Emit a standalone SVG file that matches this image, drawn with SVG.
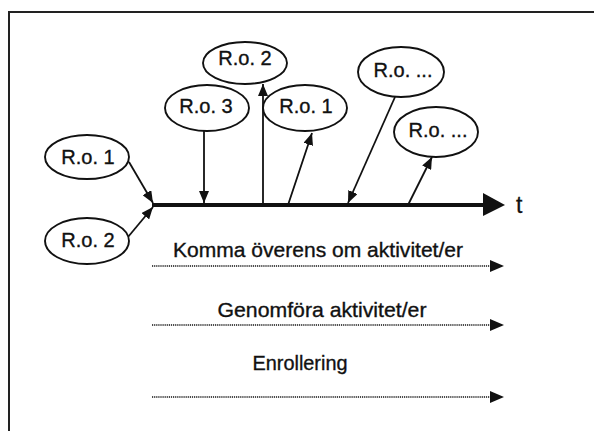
<svg xmlns="http://www.w3.org/2000/svg" width="594" height="431" viewBox="0 0 594 431">
<defs>
<style>
.node ellipse{fill:#fff;stroke:#111;stroke-width:1.9}
.lbl{font-family:"Liberation Sans",Arial,sans-serif;font-size:20px;fill:#111;stroke:#111;stroke-width:0.35;text-anchor:middle}
.ph{font-size:21px}
.con{stroke:#111;stroke-width:1.8;fill:none}
.dot{stroke:#111;stroke-width:1.7;stroke-dasharray:1.2 0.9;fill:none}
.head{fill:#111}
</style>
<marker id="ah" viewBox="0 0 12 10" refX="12" refY="5" markerWidth="12" markerHeight="10" markerUnits="userSpaceOnUse" orient="auto">
<path d="M0,0 L12,5 L0,10 Z" fill="#111"/>
</marker>
</defs>
<rect width="594" height="431" fill="#fff"/>
<g id="frame">
<path d="M9,431 L9,12 L594,12" fill="none" stroke="#222" stroke-width="2"/>
</g>
<g id="connectors">
<line class="con" x1="129" y1="162" x2="153" y2="203" marker-end="url(#ah)"/>
<line class="con" x1="128" y1="237" x2="153" y2="207" marker-end="url(#ah)"/>
<line class="con" x1="204" y1="131" x2="204" y2="203" marker-end="url(#ah)"/>
<line class="con" x1="263" y1="205" x2="263" y2="84" stroke-width="2.6" marker-end="url(#ah)"/>
<line class="con" x1="288" y1="205" x2="312" y2="133" marker-end="url(#ah)"/>
<line class="con" x1="395" y1="97" x2="348" y2="203" marker-end="url(#ah)"/>
<line class="con" x1="408" y1="205" x2="432" y2="157" marker-end="url(#ah)"/>
</g>
<g id="axis">
<line x1="152" y1="205" x2="486" y2="205" stroke="#111" stroke-width="4"/>
<polygon class="head" points="483,193 505,205 483,216"/>
<text x="516" y="213" font-family="Liberation Sans, Arial, sans-serif" font-size="23" fill="#111" stroke="#111" stroke-width="0.3">t</text>
</g>
<g id="n-ro1-left" class="node"><ellipse cx="87" cy="157" rx="42" ry="22"/><text class="lbl" x="88" y="164">R.o. 1</text></g>
<g id="n-ro2-left" class="node"><ellipse cx="87" cy="241" rx="42" ry="23"/><text class="lbl" x="88" y="247">R.o. 2</text></g>
<g id="n-ro2-top" class="node"><ellipse cx="245" cy="63" rx="42" ry="21"/><text class="lbl" x="245" y="65">R.o. 2</text></g>
<g id="n-ro3" class="node"><ellipse cx="207" cy="108" rx="42" ry="23"/><text class="lbl" x="206" y="113">R.o. 3</text></g>
<g id="n-ro1-mid" class="node"><ellipse cx="305" cy="108" rx="42" ry="23"/><text class="lbl" x="306" y="113">R.o. 1</text></g>
<g id="n-ro-etc1" class="node"><ellipse cx="401" cy="72" rx="43" ry="25"/><text class="lbl" x="403" y="77">R.o. ...</text></g>
<g id="n-ro-etc2" class="node"><ellipse cx="436" cy="132" rx="42" ry="25"/><text class="lbl" x="438" y="137">R.o. ...</text></g>
<g id="phases">
<text class="lbl ph" x="318" y="257" textLength="290" lengthAdjust="spacingAndGlyphs">Komma överens om aktivitet/er</text>
<line class="dot" x1="152" y1="266" x2="492" y2="266"/>
<polygon class="head" points="490,260 504,266 490,272"/>
<text class="lbl ph" x="322" y="317" textLength="209" lengthAdjust="spacingAndGlyphs">Genomföra aktivitet/er</text>
<line class="dot" x1="152" y1="325" x2="492" y2="325"/>
<polygon class="head" points="490,319 504,325 490,331"/>
<text class="lbl ph" x="300" y="370" textLength="95" lengthAdjust="spacingAndGlyphs">Enrollering</text>
<line class="dot" x1="152" y1="397" x2="492" y2="397"/>
<polygon class="head" points="490,391 504,397 490,403"/>
</g>
</svg>
